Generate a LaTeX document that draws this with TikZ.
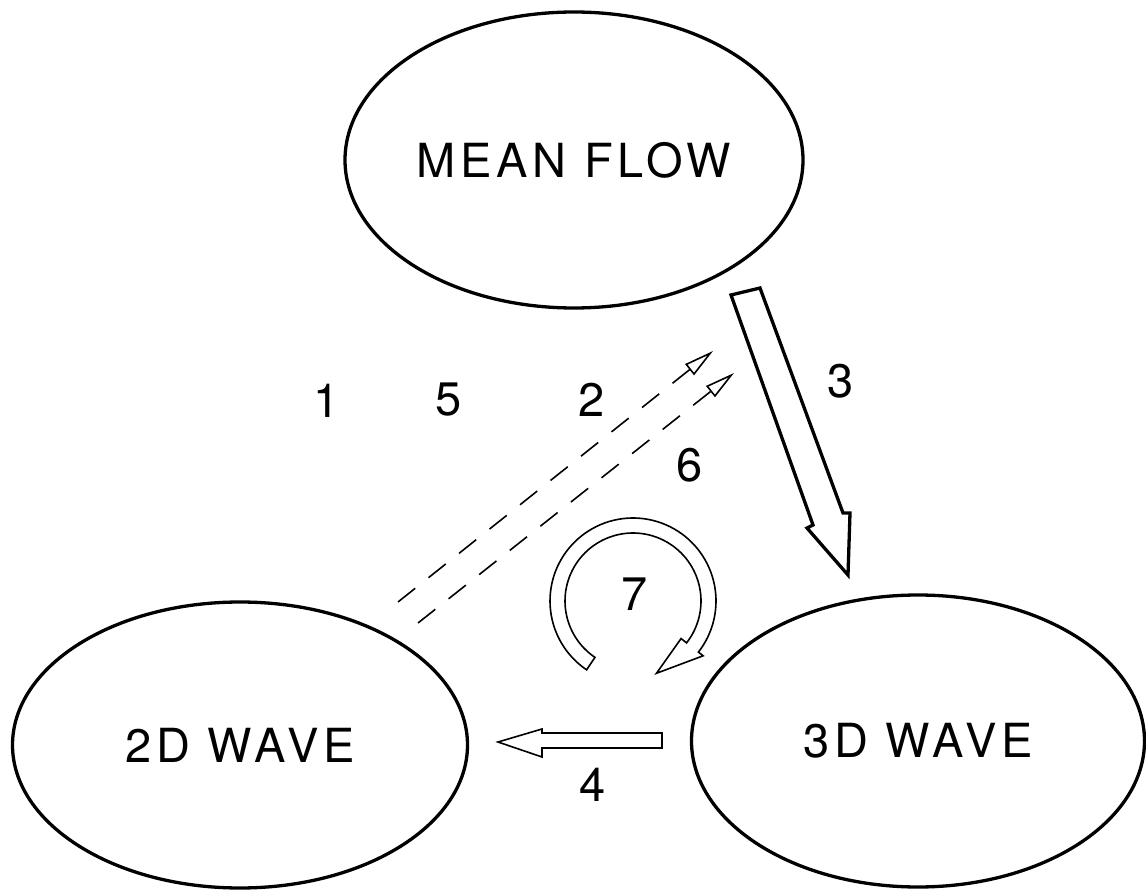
\documentclass[tikz,border=0pt]{standalone}
\usepackage{fontspec}
\setmainfont{TeX Gyre Heros}
\newfontfamily\lblfont[LetterSpace=10]{TeX Gyre Heros}
\usetikzlibrary{shapes.geometric,arrows.meta}
\tikzset{
  bubble/.style={draw, ellipse, line width=3.3pt, inner sep=0pt,
    font=\lblfont\fontsize{47}{56}\selectfont},
  num/.style={inner sep=0pt, font=\fontsize{47}{56}\selectfont},
  bigarrow/.style={draw, line width=3.3pt, line join=miter},
  hollow/.style={draw, line width=1.6pt, line join=miter},
  dashlink/.style={line width=1.6pt, dash pattern=on 22pt off 17pt,
    -{Triangle[open, length=30pt, width=14pt, line width=1.6pt]}}
}
\begin{document}
\begin{tikzpicture}[x=1pt,y=-1pt]
\useasboundingbox (0,0) rectangle (1146,890);
% ellipses
\node[bubble, minimum width=458pt, minimum height=296pt] (mf) at (574,160) {MEAN FLOW};
\node[bubble, minimum width=455pt, minimum height=286pt] (w2) at (240,745) {2D WAVE};
\node[bubble, minimum width=453pt, minimum height=292pt] (w3) at (918,741) {3D WAVE};
% labels
\node[num] (l1) at (327,401) {1};
\node[num] (l5) at (449,400) {5};
\node[num] (l2) at (592,400) {2};
\node[num] (l3) at (841,381) {3};
\node[num] (l6) at (690,465) {6};
\node[num] (l7) at (635,594) {7};
\node[num] (l4) at (593,785) {4};
% big arrow 3 (mean flow -> 3D wave)
\draw[bigarrow] (731,295) -- (760,288) -- (843,513) -- (850,513) -- (848,575)
  -- (807,528) -- (813,525) -- cycle;
% dashed arrows 2 and 6
\coordinate (d1s) at (398,602);
\coordinate (d1e) at (713,351);
\coordinate (d2s) at (418,623);
\coordinate (d2e) at (734,373);
\draw[dashlink] (d1s) -- (d1e);
\draw[dashlink] (d2s) -- (d2e);
% arrow 4 (3D wave -> 2D wave)
\draw[hollow] (662,733) -- (542,733) -- (542,729) -- (498,742) -- (542,757)
  -- (542,748) -- (662,748) -- cycle;
% circular arrow 7
\draw[hollow] plot[domain=124:398, samples=90] ({633+83*cos(\x)},{601+83*sin(\x)})
  -- ({633+89*cos(38)},{601+89*sin(38)})
  -- ({633+76*cos(72)},{601+76*sin(72)})
  -- ({633+61*cos(38)},{601+61*sin(38)})
  -- plot[domain=398:124, samples=90] ({633+68*cos(\x)},{601+68*sin(\x)})
  -- cycle;
\end{tikzpicture}
\end{document}
